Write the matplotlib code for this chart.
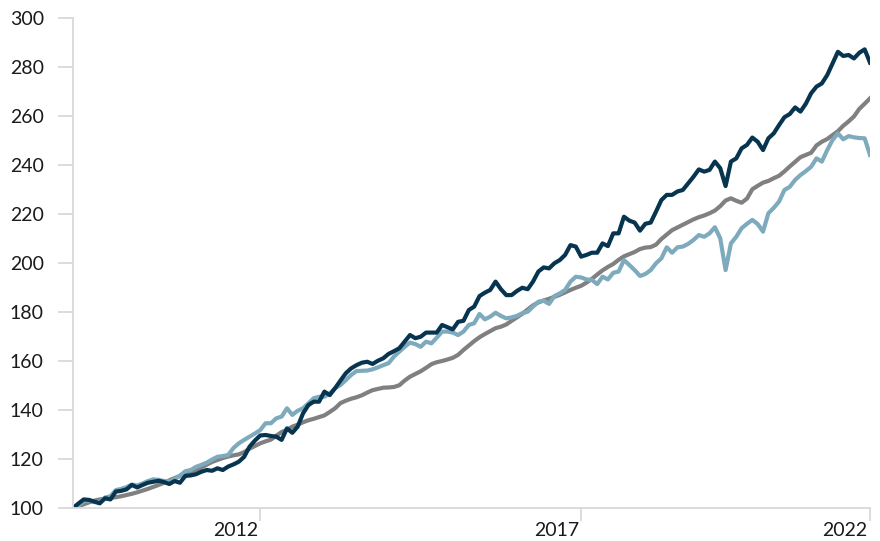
import numpy as np
import matplotlib
matplotlib.use("Agg")
import matplotlib.pyplot as plt
from matplotlib.ticker import FixedLocator, NullFormatter, FixedFormatter

plt.rcParams['font.family'] = ['Lato', 'DejaVu Sans']

# monthly index values (start = 100)
dark = [100.0, 101.8, 103.5, 103.3, 102.6, 101.9, 104.0, 103.5, 106.7, 107.0,
        107.6, 109.4, 108.4, 109.4, 110.3, 110.7, 111.1, 110.6, 109.8, 111.0,
        110.3, 113.1, 113.3, 113.8, 114.8, 115.5, 115.2, 116.2, 115.5, 116.9,
        117.8, 118.9, 120.9, 125.0, 127.5, 129.6, 129.8, 129.4, 129.1, 127.8,
        132.5, 130.7, 133.2, 138.6, 142.0, 143.4, 143.4, 147.5, 146.1, 148.9,
        152.0, 155.0, 157.0, 158.3, 159.3, 159.7, 158.8, 160.1, 161.1, 162.9,
        164.0, 165.2, 167.9, 170.6, 169.3, 169.9, 171.6, 171.6, 171.6, 174.7,
        173.8, 172.9, 176.0, 176.4, 180.8, 182.2, 186.5, 187.9, 189.0, 192.4,
        189.3, 186.9, 186.9, 188.6, 189.9, 189.3, 192.4, 196.5, 198.2, 197.8,
        199.9, 201.2, 203.3, 207.3, 206.7, 202.6, 203.3, 204.2, 204.2, 208.0,
        206.9, 212.1, 212.1, 218.9, 217.3, 216.5, 213.2, 216.0, 216.5, 221.0,
        225.7, 227.8, 227.8, 229.2, 229.8, 232.5, 235.2, 238.2, 237.3, 238.0,
        241.4, 238.7, 231.4, 241.4, 242.7, 246.8, 248.2, 251.2, 249.5, 246.1,
        250.9, 252.9, 256.3, 259.5, 260.8, 263.5, 261.8, 265.0, 269.3, 272.0,
        273.3, 276.7, 281.5, 286.2, 284.5, 284.9, 283.5, 285.8, 287.2, 281.8]

light = [100.0, 101.0, 102.8, 103.0, 102.4, 102.5, 104.3, 104.8, 107.3, 107.8,
         108.5, 109.6, 109.2, 110.0, 111.0, 111.7, 111.5, 111.0, 110.8, 111.8,
         113.2, 115.0, 115.5, 116.8, 117.6, 118.5, 119.8, 120.9, 121.2, 121.6,
         124.5, 126.4, 127.8, 129.1, 130.4, 131.8, 134.6, 134.6, 136.6, 137.3,
         140.7, 138.0, 139.7, 140.7, 142.7, 144.8, 145.4, 145.4, 146.8, 148.9,
         150.2, 152.2, 154.3, 155.9, 156.0, 156.1, 156.6, 157.4, 158.3, 159.1,
         161.8, 163.8, 165.8, 167.5, 166.9, 165.8, 167.9, 167.2, 169.5, 172.0,
         172.0, 171.6, 170.6, 172.0, 174.7, 175.4, 179.2, 177.0, 178.1, 179.7,
         178.4, 177.4, 177.8, 178.4, 179.5, 180.1, 182.2, 184.2, 184.6, 183.3,
         186.5, 187.6, 189.0, 192.4, 194.4, 194.1, 193.3, 193.1, 191.4, 194.4,
         193.3, 196.0, 196.5, 201.2, 199.2, 197.1, 194.7, 195.5, 197.1, 199.9,
         201.9, 206.4, 204.2, 206.4, 206.7, 207.8, 209.4, 211.4, 210.7, 212.1,
         214.6, 210.1, 197.1, 208.0, 210.7, 214.2, 216.0, 217.6, 215.9, 212.8,
         220.3, 222.5, 225.1, 229.8, 231.1, 233.9, 235.9, 237.5, 239.3, 242.7,
         241.4, 246.1, 250.2, 252.9, 250.5, 251.8, 251.3, 251.0, 250.9, 244.1]

gray = [100.0, 100.8, 101.5, 102.3, 103.0, 103.5, 103.8, 104.1, 104.4, 104.8,
        105.3, 105.8, 106.4, 107.1, 107.8, 108.6, 109.4, 110.3, 111.3, 112.2,
        113.1, 113.9, 114.7, 115.5, 116.5, 117.7, 118.8, 119.6, 120.4, 121.0,
        121.5, 121.9, 122.8, 124.2, 125.3, 126.4, 127.2, 127.9, 129.5, 131.0,
        131.9, 133.2, 134.0, 135.0, 135.8, 136.4, 137.1, 137.8, 139.2, 140.7,
        142.8, 143.8, 144.6, 145.2, 146.0, 147.1, 148.1, 148.6, 149.1, 149.2,
        149.4, 150.1, 152.0, 153.6, 154.7, 155.8, 157.2, 158.7, 159.5, 160.0,
        160.6, 161.3, 162.5, 164.5, 166.3, 168.1, 169.7, 171.0, 172.2, 173.4,
        174.0, 174.9, 176.4, 177.8, 179.3, 181.0, 182.7, 183.9, 184.7, 185.4,
        186.2, 187.0, 188.0, 189.0, 189.9, 190.7, 192.0, 193.5, 195.3, 197.0,
        198.4, 199.6, 201.3, 202.7, 203.6, 204.5, 205.7, 206.3, 206.5, 207.5,
        209.8, 211.6, 213.4, 214.5, 215.6, 216.7, 217.8, 218.7, 219.4, 220.3,
        221.4, 223.2, 225.5, 226.4, 225.4, 224.6, 226.3, 230.1, 231.5, 232.8,
        233.5, 234.6, 235.6, 237.4, 239.4, 241.3, 243.2, 244.1, 245.0, 248.0,
        249.5, 250.6, 252.2, 253.8, 256.0, 257.8, 259.8, 262.9, 265.0, 267.2]

year_ticks = [35, 95, 149]          # month index of the tick marks
year_label_pos = [30.4, 90.4, 144.3]
year_labels = ['2012', '2017', '2022']

x = np.arange(len(dark))

fig = plt.figure(figsize=(8.8, 5.41), dpi=100)
ax = fig.add_axes([73/880, 1-508/541, 797/880, 490/541])

ax.plot(x, gray, color='#808080', lw=3.0, solid_joinstyle='round')
ax.plot(x, light, color='#7eaabd', lw=3.0, solid_joinstyle='round')
ax.plot(x, dark, color='#07354f', lw=3.0, solid_joinstyle='round')

ax.set_xlim(0, len(dark) - 1)
ax.set_ylim(100, 300)
ax.set_yticks(range(100, 301, 20))

for s in ['top', 'right']:
    ax.spines[s].set_visible(False)
for s in ['left', 'bottom']:
    ax.spines[s].set_color('#d9d9d9')
    ax.spines[s].set_linewidth(1.3)

ax.tick_params(axis='y', length=10.5, width=1.3, color='#d9d9d9', pad=10.5,
               labelsize=14, labelcolor='#1a1a1a')
ax.xaxis.set_major_locator(FixedLocator(year_ticks))
ax.xaxis.set_major_formatter(NullFormatter())
ax.xaxis.set_minor_locator(FixedLocator(year_label_pos))
ax.xaxis.set_minor_formatter(FixedFormatter(year_labels))
ax.tick_params(axis='x', which='major', length=9, width=1.3, color='#d9d9d9')
ax.tick_params(axis='x', which='minor', length=0, pad=10, labelsize=14,
               labelcolor='#1a1a1a')

fig.savefig('out.png', dpi=100)
